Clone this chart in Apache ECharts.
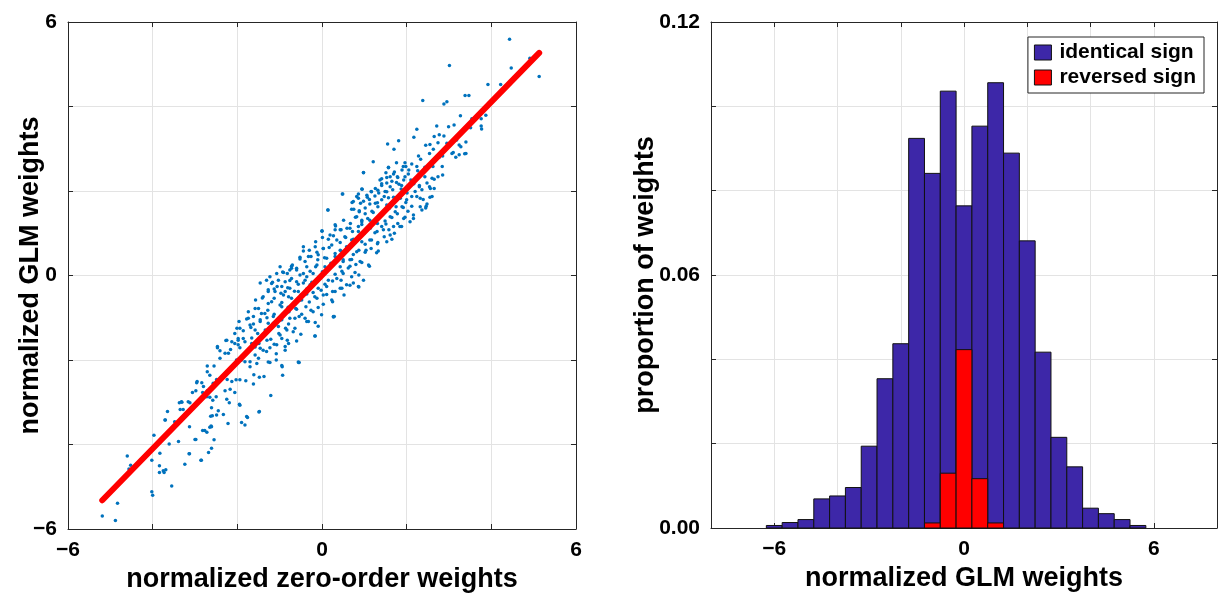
<!DOCTYPE html>
<html>
<head>
<meta charset="utf-8">
<script src="https://cdn.jsdelivr.net/npm/echarts@6/dist/echarts.min.js"></script>
<style>
html,body{margin:0;padding:0;background:#fff;}
#chart{width:1218px;height:595px;}
</style>
</head>
<body>
<div id="chart"></div>
<script>
// ---------- DATA ----------
// scatter: normalized zero-order weights (x) vs normalized GLM weights (y)
const scatterPoints = [
[4.43,5.59],[3.01,4.97],[4.47,4.91],[5.13,4.71],[4.91,5.14],[3.92,4.52],[4.22,4.52],[3.38,4.26],[3.47,4.26],[2.38,4.14],[2.88,4.06],[2.95,4.11],[3.27,3.78],[3.54,3.71],[3.76,3.71],[3.87,3.79],[3.76,3.54],[3.77,3.47],[3.51,3.50],[3.28,3.05],[3.40,3.16],[3.37,2.88],[3.40,2.89],[3.24,2.86],[3.24,3.09],[3.10,2.91],
[2.24,3.46],[2.71,3.54],[2.99,3.52],[3.12,3.56],[2.17,3.27],[2.65,3.29],[2.77,3.33],[2.88,3.30],[1.55,3.11],[1.81,3.19],[2.45,3.08],[2.55,3.10],[2.74,3.14],[2.95,3.13],[3.18,3.21],[1.70,2.99],[3.07,2.89],[3.16,2.80],[2.63,2.99],[2.54,2.89],[2.77,2.80],[2.85,2.83],[2.28,2.83],[2.33,2.75],[1.21,2.69],[1.76,2.67],[1.96,2.67],[2.12,2.64],[1.57,2.56],[1.92,2.58],[2.05,2.50],[2.24,2.58],[2.43,2.56],[2.62,2.58],[2.84,2.58],[0.98,2.43],[1.51,2.43],[1.69,2.40],[1.78,2.34],[1.37,2.26],[1.53,2.32],[1.96,2.34],[2.10,2.26],[2.43,2.34],[2.65,2.28],[2.74,2.34],[2.85,2.38],[1.41,2.17],[1.61,2.10],[1.76,2.20],[1.88,2.13],[2.02,2.10],[2.17,2.17],[2.30,2.10],[2.54,2.10],[2.65,2.06],[0.95,2.04],[1.17,1.98],[1.32,2.02],[1.53,1.98],[0.48,1.93],[0.86,1.93],[1.07,1.85],[1.25,1.88],[1.47,1.87],[1.69,1.85],[1.84,1.88],[2.00,1.79],[2.24,1.87],[2.39,1.80],[2.55,1.85],[0.74,1.75],[0.91,1.71],[1.13,1.69],[1.31,1.72],[1.53,1.67],[1.75,1.63],[1.92,1.61],[2.12,1.64],[2.36,1.55],[2.46,1.64],[0.14,1.55],[0.70,1.57],[0.88,1.53],[1.02,1.46],[1.21,1.49],[1.41,1.43],[1.61,1.39],[1.78,1.46],[1.96,1.38],[2.16,1.35],[0.79,1.38],[0.51,1.31],[0.94,1.27],[1.13,1.31],[1.31,1.23],[1.51,1.22],[1.69,1.16],[1.88,1.16],[0.00,1.06],[0.32,1.17],[0.43,1.08],[0.66,1.12],[0.86,1.04],[1.06,1.08],[1.25,1.01],[1.45,1.08],[1.61,0.96],[0.19,0.96],[0.35,0.84],[0.54,0.92],[0.74,0.86],[0.94,0.80],[1.13,0.84],[1.31,0.75],[1.53,0.80],[-0.44,0.58],[-0.16,0.68],[0.03,0.64],[0.23,0.72],[0.43,0.60],[0.62,0.64],[0.82,0.56],[1.04,0.60],[1.29,0.54],[-0.52,0.43],[-0.32,0.45],[-0.09,0.49],[0.11,0.41],[0.31,0.45],[0.50,0.37],[0.70,0.38],[0.90,0.33],[1.12,0.22],[-0.72,0.22],[-0.36,0.21],[-0.12,0.25],[0.07,0.21],[0.43,0.21],[0.66,0.22],
[-0.93,0.08],[-0.82,0.05],[-0.72,0.17],[-0.60,0.13],[-0.52,0.01],[-0.36,-0.03],[-0.21,0.05],[-0.05,-0.07],[0.15,-0.11],[0.35,-0.07],[0.50,0.05],[0.70,-0.03],[0.86,-0.26],[0.98,-0.11],[0.74,-0.18],[0.58,-0.22],[0.43,-0.30],[0.25,-0.38],[0.11,-0.26],[-0.09,-0.30],[-0.28,-0.22],[-0.44,-0.18],[-0.60,-0.15],[-0.76,-0.12],[-1.17,-0.16],[-0.95,-0.26],[-0.76,-0.30],[-0.56,-0.38],[-0.36,-0.44],[-0.17,-0.50],[0.03,-0.46],[0.23,-0.58],[0.52,-0.46],[-0.52,-0.58],[-0.72,-0.54],[-0.91,-0.46],[-1.11,-0.38],[-1.27,-0.34],[-1.39,-0.50],[-1.19,-0.62],[-0.99,-0.70],[-0.80,-0.75],[-0.60,-0.80],[-0.38,-0.74],[-0.21,-0.86],[-0.01,-0.93],[0.27,-0.97],[-0.32,-1.09],[-0.09,-1.20],[-0.17,-1.43],[-0.54,-0.97],[-0.76,-1.01],[-0.95,-1.05],[-1.15,-0.97],[-1.35,-0.90],[-1.50,-0.78],[-1.62,-0.97],[-1.46,-1.05],[-1.27,-1.13],[-1.03,-1.21],[-0.83,-1.29],[-0.64,-1.25],[-0.99,-1.41],[-0.82,-1.53],[-1.07,-1.64],[-0.87,-1.68],[-1.21,-1.51],[-1.39,-1.41],[-1.58,-1.29],[-1.70,-1.17],[-1.74,-1.01],[-1.94,-1.25],[-2.06,-1.37],[-1.86,-1.49],[-1.66,-1.61],[-1.46,-1.72],[-1.31,-1.80],[-1.58,-1.88],[-1.78,-1.80],[-1.98,-1.64],[-2.13,-1.57],[-2.27,-1.54],[-2.47,-1.71],[-2.41,-1.96],[-2.21,-1.84],[-2.02,-2.00],[-1.82,-2.04],[-1.54,-2.08],[-1.23,-2.06],[-0.95,-2.13],[-0.54,-2.06],[-2.71,-2.14],[-2.55,-2.14],[-2.09,-2.12],[-1.70,-2.16],[-1.06,-0.26],[-0.87,-0.38],[-0.99,0.21],[-1.07,0.05],[-1.23,-0.03],[-1.46,-0.18],[-1.31,-0.11],
[-2.65,-2.36],[-2.71,-2.28],[-2.95,-2.51],[-2.84,-2.54],[-2.98,-2.73],[-2.80,-2.63],[-2.71,-2.73],[-2.57,-2.55],[-2.49,-2.46],[-2.24,-2.46],[-2.13,-2.51],[-2.03,-2.47],[-1.94,-2.47],[-1.80,-2.49],[-1.61,-2.35],[-1.48,-2.41],[-1.37,-2.39],[-1.62,-2.57],[-2.06,-2.77],[-2.29,-2.73],[-2.17,-2.69],[-2.25,-2.93],[-2.19,-3.01],[-2.65,-2.88],[-2.58,-2.95],[-2.50,-2.87],[-2.45,-3.20],[-2.63,-3.33],[-2.49,-3.30],[-2.33,-3.29],[-2.61,-3.13],[-1.94,-3.07],[-1.48,-3.22],[-1.21,-2.84],[-2.22,-3.50],[-1.90,-3.48],[-1.82,-3.54],[-1.76,-3.36],[-2.62,-3.56],[-2.82,-3.67],[-2.72,-3.71],[-2.65,-3.59],[-2.55,-3.89],[-2.98,-3.88],[-2.61,-4.09],[-2.68,-4.19],[-2.86,-4.37],[-3.14,-4.22],[-3.24,-4.47],[-3.39,-3.93],[-3.61,-3.99],[-3.13,-3.58],[-3.12,-3.01],[-3.16,-2.99],[-3.32,-2.99],[-3.35,-3.17],[-3.28,-3.17],[-2.96,-2.54],[-3.06,-2.77],[-2.82,-2.77],[-2.72,-2.87],[-3.65,-3.22],[-3.71,-3.42],[-3.49,-3.56],[-3.97,-3.78],[-3.83,-4.21],[-4.02,-4.37],[-3.84,-4.50],[-3.75,-4.62],[-3.69,-4.60],[-3.55,-4.98],[-4.02,-5.12],[-4.00,-5.20],[-4.60,-4.27],[-4.52,-4.49],[-4.56,-4.58],[-4.83,-5.39],[-5.19,-5.69],[-4.88,-5.80],[-3.84,-4.66],[-3.73,-4.66],[-3.70,-3.42],[-3.48,-3.46],[-3.37,-3.01],[-3.31,-3.00],[-3.13,-4.22],[-3.00,-3.88],[-2.85,-4.37],[-2.77,-3.67],[-2.61,-3.58],[-2.59,-3.32],[-1.95,-3.05],[-1.78,-3.34],[-1.49,-3.23],[-0.94,-2.16],[-0.93,-2.36],[-0.55,-2.06],[0.27,-0.98],[-2.47,-1.68],[-2.41,-1.78],[-2.29,-1.84],[-2.25,-1.53],[-2.16,-1.75],[-2.06,-1.61],[-1.98,-1.53],
[1.57,2.55],[1.71,2.45],[1.89,2.50],[1.98,2.58],[0.98,2.44],[1.41,2.29],[1.61,2.34],[1.79,2.32],[2.04,2.40],[2.26,2.48],
[1.53,2.19],[1.65,2.23],[1.82,2.16],[1.93,2.26],[2.12,2.23],[2.30,2.13],[2.48,2.19],[2.60,2.30],[1.26,2.06],[1.41,2.13],
[0.94,2.05],[1.06,1.90],[1.16,1.99],[1.34,1.95],[1.49,1.99],[1.67,2.03],[1.87,2.05],[2.01,1.95],[2.20,1.99],[2.36,2.03],[2.56,2.06],[0.49,1.93],[0.82,1.87],
[0.71,1.73],[0.86,1.83],[0.98,1.76],[1.12,1.80],[1.26,1.71],[1.41,1.79],[1.57,1.84],[1.71,1.75],[1.85,1.83],[1.98,1.73],[2.12,1.87],[2.32,1.83],[2.48,1.69],[2.60,1.87],
[0.14,1.55],[0.75,1.57],[0.88,1.51],[1.02,1.60],[1.18,1.52],[1.32,1.63],[1.45,1.47],[1.59,1.59],[1.73,1.51],[1.89,1.63],[2.03,1.52],[2.16,1.43],[2.32,1.63],[2.45,1.60],
[0.82,1.39],[0.94,1.31],[1.08,1.35],[1.22,1.26],[1.35,1.37],[1.49,1.29],[1.65,1.37],[1.79,1.23],[1.93,1.35],[2.08,1.27],[0.94,1.21],[0.67,1.23],[0.31,1.20],
[0.00,1.05],[0.31,1.08],[0.45,1.08],[0.59,1.12],[0.72,1.04],[0.86,1.16],[1.00,1.00],[1.14,1.12],[1.30,1.04],[1.41,1.16],[1.58,1.08],[1.71,1.00],[1.84,1.16],
[-0.15,0.80],[0.01,0.90],[0.15,0.86],[0.27,0.94],[0.43,0.78],[0.56,0.90],[0.70,0.84],[0.87,0.92],[1.02,0.74],[1.17,0.84],[1.32,0.78],[1.47,0.92],[1.65,0.86],
[-0.44,0.68],[-0.30,0.60],[-0.12,0.55],[0.03,0.64],[0.17,0.66],[0.31,0.52],[0.45,0.58],[0.58,0.68],[0.74,0.50],[0.87,0.60],[1.02,0.55],[1.16,0.64],[1.33,0.58],
[-0.70,0.25],[-0.52,0.39],[-0.40,0.33],[-0.26,0.45],[-0.10,0.37],[0.06,0.42],[0.21,0.29],[0.35,0.41],[0.50,0.33],[0.66,0.37],[0.80,0.26],[0.94,0.31],[1.10,0.25],
[-0.91,0.07],[-0.76,0.13],[-0.60,0.17],[-0.44,0.05],[-0.28,0.10],[-0.15,0.21],[0.01,0.09],[0.15,0.15],[0.31,0.03],[0.47,0.10],[0.62,0.18],[0.78,0.07],[0.87,0.01],
[-1.19,-0.19],[-1.03,-0.11],[-0.87,-0.15],[-0.72,-0.07],[-0.56,-0.21],[-0.40,-0.11],[-0.24,-0.16],[-0.09,-0.07],[0.07,-0.21],[0.25,-0.13],[0.45,-0.11],[0.66,-0.23],[0.87,-0.27],
[-1.27,-0.38],[-1.13,-0.32],[-0.97,-0.42],[-0.81,-0.29],[-0.65,-0.37],[-0.50,-0.46],[-0.36,-0.32],[-0.21,-0.40],[-0.02,-0.35],[0.11,-0.45],[0.31,-0.38],[0.47,-0.30],
[-1.57,-0.58],[-1.41,-0.53],[-1.27,-0.66],[-1.13,-0.54],[-0.95,-0.64],[-0.79,-0.50],[-0.64,-0.68],[-0.48,-0.58],[-0.30,-0.63],[-0.12,-0.54],[0.03,-0.68],[0.25,-0.62],[0.29,-0.97],
[-1.74,-0.86],[-1.58,-0.78],[-1.43,-0.90],[-1.28,-0.82],[-1.13,-0.92],[-0.95,-0.74],[-0.78,-0.86],[-0.62,-0.78],[-0.48,-0.92],[-0.26,-0.82],[-0.09,-0.76],[-0.40,-1.01],
[-1.96,-1.09],[-1.78,-1.03],[-1.62,-1.15],[-1.46,-1.09],[-1.30,-1.00],[-1.15,-1.13],[-0.97,-1.05],[-0.79,-1.15],[-0.64,-1.01],[-0.36,-1.09],[-0.16,-1.11],
[-2.01,-1.25],[-1.86,-1.31],[-1.68,-1.23],[-1.52,-1.37],[-1.34,-1.29],[-1.19,-1.23],[-1.02,-1.37],[-0.86,-1.25],[-0.68,-1.33],[-0.50,-1.39],[-0.16,-1.43],
[-1.98,-1.49],[-1.82,-1.57],[-1.66,-1.48],[-1.49,-1.61],[-1.30,-1.53],[-1.13,-1.63],[-0.95,-1.49],[-0.79,-1.61],[-0.60,-1.55],
[-1.94,-1.71],[-1.78,-1.79],[-1.58,-1.69],[-1.39,-1.77],[-1.23,-1.71],[-1.08,-1.85],[-0.87,-1.77],
[-1.90,-2.00],[-1.70,-2.04],[-1.50,-1.96],[-1.27,-2.05],[-1.08,-2.00],[-0.56,-2.05]
];
// regression line endpoints (x, y)
const fitLine = [[-5.19,-5.32],[5.13,5.27]];

// histogram of normalized GLM weights (bin width 0.5)
const binWidth = 0.5;
const binCenters = [-6,-5.5,-5,-4.5,-4,-3.5,-3,-2.5,-2,-1.5,-1,-0.5,0,0.5,1,1.5,2,2.5,3,3.5,4,4.5,5,5.5];
const identicalSign = [0.0006,0.0013,0.0020,0.0069,0.0076,0.0096,0.0194,0.0354,0.0437,0.0924,0.0841,0.1036,0.0764,0.0953,0.1056,0.0889,0.0681,0.0417,0.0215,0.0145,0.0047,0.0034,0.0020,0.0006];
const reversedCenters = [-1,-0.5,0,0.5,1];
const reversedSign = [0.0012,0.0130,0.0423,0.0117,0.0012];

const leftTicks = [-6,0,6];
const histXTicks = [-6,0,6];
const histYTicks = [0,0.06,0.12];

// ---------- CHART ----------
const FONT = 'Liberation Sans, Arial, sans-serif';
const AX = '#262626';
const GRID = '#e3e3e3';
const BLUE = '#3D27A8';
const RED = '#FF0000';

function fmtNum(v){ return v < 0 ? '\u2212' + Math.abs(v) : String(v); }
function onlyTicks(list, fmt){
  return function(v){
    for (const t of list) if (Math.abs(v - t) < 1e-9) return fmt(t);
    return '';
  };
}
const labelStyle = {color:'#000', fontFamily:FONT, fontWeight:'bold', fontSize:21};
const nameStyle = {color:'#000', fontFamily:FONT, fontWeight:'bold', fontSize:27};

function mainAxis(extra){
  return Object.assign({
    type:'value',
    nameMoveOverlap:false,
    axisLine:{show:true, onZero:false, lineStyle:{color:AX, width:1}},
    axisTick:{show:true, inside:true, length:5, lineStyle:{color:AX}},
    splitLine:{show:true, lineStyle:{color:GRID, width:1}},
  }, extra);
}
function mirrorAxis(extra){
  return Object.assign({
    type:'value',
    axisLine:{show:true, onZero:false, lineStyle:{color:AX, width:1}},
    axisTick:{show:true, inside:true, length:5, lineStyle:{color:AX}},
    axisLabel:{show:false},
    splitLine:{show:false},
  }, extra);
}

function histRender(params, api){
  const c = api.value(0), h = api.value(1);
  const p0 = api.coord([c - binWidth/2, h]);
  const p1 = api.coord([c + binWidth/2, 0]);
  return {
    type:'rect',
    shape:{x:p0[0], y:p0[1], width:p1[0]-p0[0], height:p1[1]-p0[1]},
    style:{fill:api.visual('color'), stroke:'#111', lineWidth:1}
  };
}

const chart = echarts.init(document.getElementById('chart'), null, {renderer:'canvas'});
chart.setOption({
  animation:false,
  backgroundColor:'#fff',
  grid:[
    {left:68, top:22, width:508, height:507, containLabel:false, outerBoundsMode:'none'},
    {left:711, top:22, width:506, height:506, containLabel:false, outerBoundsMode:'none'}
  ],
  xAxis:[
    mainAxis({gridIndex:0, position:'bottom', min:-6, max:6, interval:2,
      axisLabel:Object.assign({formatter:onlyTicks(leftTicks, fmtNum), margin:11, showMinLabel:true, showMaxLabel:true}, labelStyle),
      name:'normalized zero-order weights', nameLocation:'middle', nameGap:37, nameTextStyle:nameStyle}),
    mirrorAxis({gridIndex:0, position:'top', min:-6, max:6, interval:2}),
    mainAxis({gridIndex:1, position:'bottom', min:-8, max:8, interval:2,
      axisLabel:Object.assign({formatter:onlyTicks(histXTicks, fmtNum), margin:11}, labelStyle),
      name:'normalized GLM weights', nameLocation:'middle', nameGap:37, nameTextStyle:nameStyle}),
    mirrorAxis({gridIndex:1, position:'top', min:-8, max:8, interval:2})
  ],
  yAxis:[
    mainAxis({gridIndex:0, position:'left', min:-6, max:6, interval:2,
      axisLabel:Object.assign({formatter:onlyTicks(leftTicks, fmtNum), margin:11}, labelStyle),
      name:'normalized GLM weights', nameLocation:'middle', nameGap:24, nameTextStyle:nameStyle}),
    mirrorAxis({gridIndex:0, position:'right', min:-6, max:6, interval:2}),
    mainAxis({gridIndex:1, position:'left', min:0, max:0.12, interval:0.02,
      axisLabel:Object.assign({formatter:onlyTicks(histYTicks, v => v.toFixed(2)), margin:11}, labelStyle),
      name:'proportion of weights', nameLocation:'middle', nameGap:52, nameTextStyle:nameStyle}),
    mirrorAxis({gridIndex:1, position:'right', min:0, max:0.12, interval:0.02})
  ],
  legend:{
    right:14, top:37, orient:'vertical', selectedMode:false,
    backgroundColor:'#fff', borderColor:AX, borderWidth:1,
    padding:[5,8,5,6], itemGap:4, itemWidth:17, itemHeight:15,
    textStyle:{color:'#000', fontFamily:FONT, fontWeight:'bold', fontSize:21, padding:[0,0,0,3]},
    data:[
      {name:'identical sign', icon:'rect', itemStyle:{color:BLUE, borderColor:'#111', borderWidth:1}},
      {name:'reversed sign', icon:'rect', itemStyle:{color:RED, borderColor:'#111', borderWidth:1}}
    ]
  },
  series:[
    {type:'scatter', xAxisIndex:0, yAxisIndex:0, data:scatterPoints, symbolSize:3.5,
      itemStyle:{color:'#0072BD', opacity:1}, z:2, silent:true},
    {type:'line', xAxisIndex:0, yAxisIndex:0, data:fitLine, symbol:'none',
      lineStyle:{color:RED, width:6, cap:'round'}, z:3, silent:true},
    {type:'custom', name:'identical sign', xAxisIndex:2, yAxisIndex:2,
      data:binCenters.map((c,i)=>[c, identicalSign[i]]),
      renderItem:histRender, itemStyle:{color:BLUE}, encode:{x:0,y:1}, z:2, silent:true},
    {type:'custom', name:'reversed sign', xAxisIndex:2, yAxisIndex:2,
      data:reversedCenters.map((c,i)=>[c, reversedSign[i]]),
      renderItem:histRender, itemStyle:{color:RED}, encode:{x:0,y:1}, z:3, silent:true}
  ]
});
</script>
</body>
</html>
